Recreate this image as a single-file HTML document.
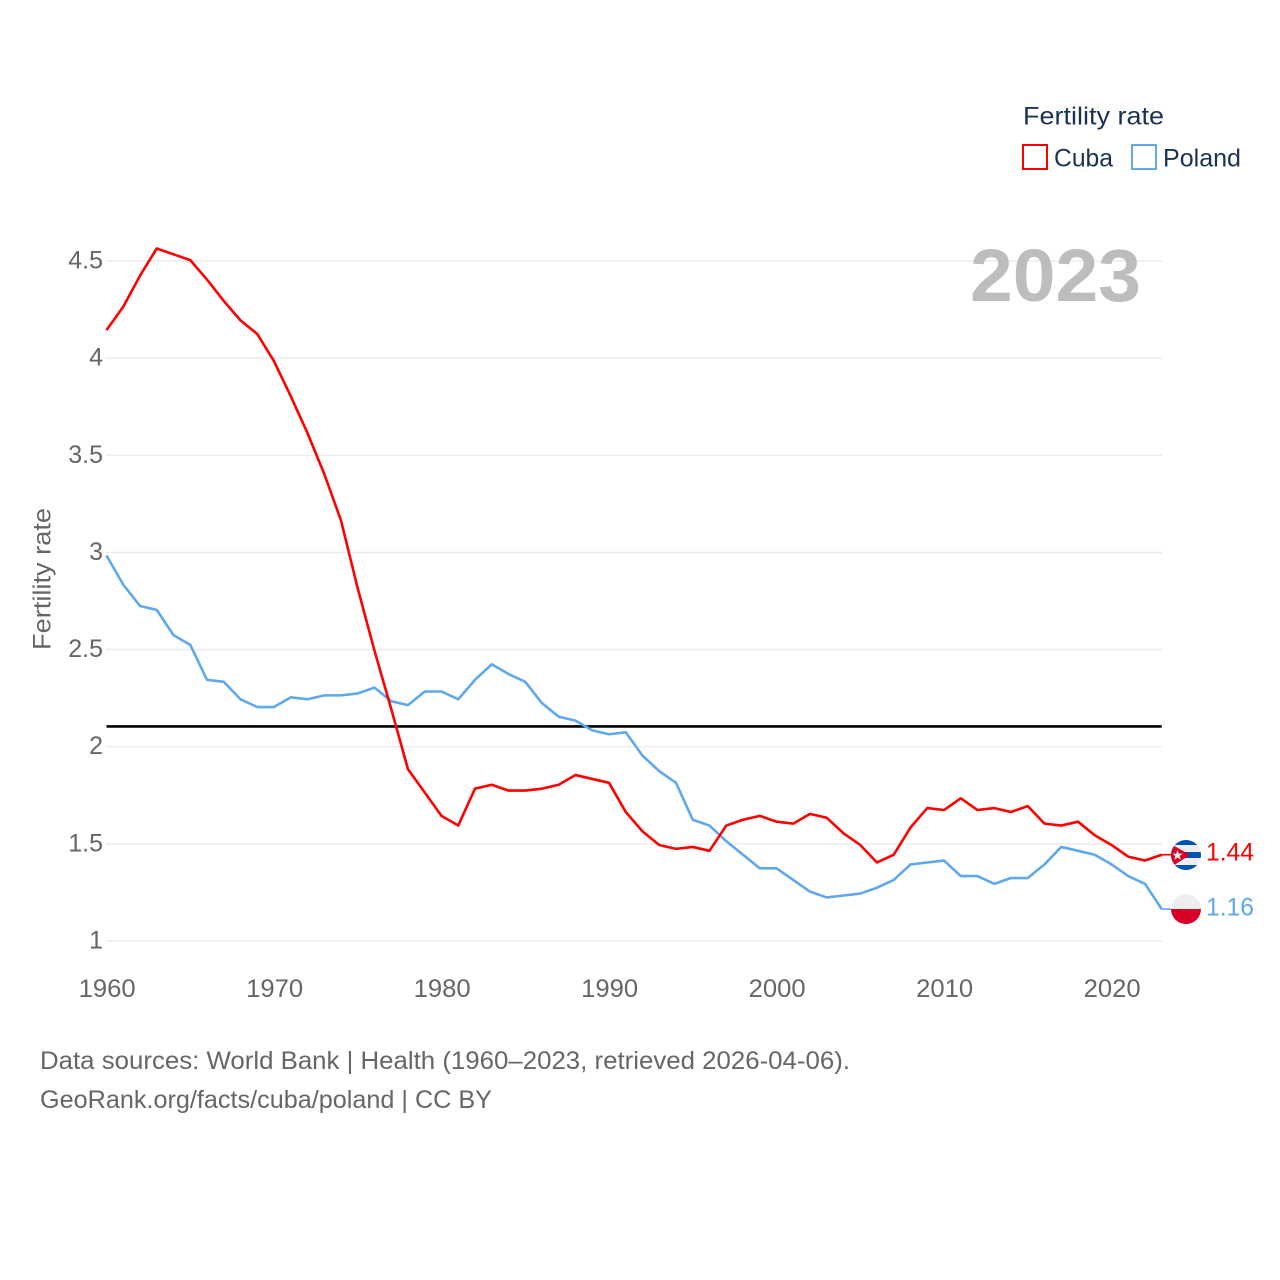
<!DOCTYPE html>
<html lang="en">
<head>
<meta charset="utf-8">
<title>Fertility rate: Cuba and Poland</title>
<style>
html,body{margin:0;padding:0;background:#fff;width:1280px;height:1280px;overflow:hidden}
svg{display:block}
text{font-family:"Liberation Sans",sans-serif}
</style>
</head>
<body>
<svg id="chart" width="1280" height="1280" viewBox="0 0 1280 1280" xmlns="http://www.w3.org/2000/svg">
  <defs>
    <clipPath id="cuba-clip"><circle cx="1186" cy="855" r="15"/></clipPath>
    <clipPath id="poland-clip"><circle cx="1186" cy="909" r="15"/></clipPath>
  </defs>
  <rect width="1280" height="1280" fill="#fff"/>
  <g id="grid"></g>
  <g id="yticks"></g>
  <g id="xticks"></g>
  <text transform="translate(50.5,650) rotate(-90)" font-size="25" fill="#666" textLength="142" lengthAdjust="spacingAndGlyphs">Fertility rate</text>
  <text x="970" y="301" font-size="74" font-weight="700" fill="#bdbdbd" textLength="171" lengthAdjust="spacingAndGlyphs">2023</text>
  <line id="ref" stroke="#000" stroke-width="2.6"/>
  <polyline id="line-poland" fill="none" stroke="#5fa8ee" stroke-width="2.6" stroke-linejoin="round"/>
  <polyline id="line-cuba" fill="none" stroke="#ff0000" stroke-width="2.6" stroke-linejoin="round"/>
  <line id="conn-cuba" stroke="#ff0000" stroke-width="1.6"/>
  <line id="conn-poland" stroke="#5fa8ee" stroke-width="1.6"/>

  <g clip-path="url(#cuba-clip)">
    <rect x="1171" y="840" width="30" height="30" fill="#eeeeee"/>
    <rect x="1171" y="839" width="30" height="6" fill="#0052b4"/>
    <rect x="1171" y="852" width="30" height="6" fill="#0052b4"/>
    <rect x="1171" y="865" width="30" height="6" fill="#0052b4"/>
    <polygon points="1171,844 1190,855 1171,867" fill="#d80027"/>
    <polygon points="1177.5,850 1178.9,853.6 1182.6,853.6 1179.7,856 1180.8,859.8 1177.5,857.6 1174.2,859.8 1175.3,856 1172.4,853.6 1176.1,853.6" fill="#eeeeee"/>
  </g>
  <g clip-path="url(#poland-clip)">
    <rect x="1171" y="894" width="30" height="15" fill="#eeeeee"/>
    <rect x="1171" y="909" width="30" height="15" fill="#d80027"/>
  </g>
  <text id="val-cuba" x="1206" y="860.5" font-size="25" fill="#ff0000" textLength="48" lengthAdjust="spacingAndGlyphs"></text>
  <text id="val-poland" x="1206" y="915.5" font-size="25" fill="#5fa8ee" textLength="48" lengthAdjust="spacingAndGlyphs"></text>

  <g>
    <text x="1023" y="124.5" font-size="25" fill="#1a3352" textLength="141" lengthAdjust="spacingAndGlyphs">Fertility rate</text>
    <rect x="1023" y="145" width="24" height="24" fill="none" stroke="#ff0000" stroke-width="2"/>
    <text x="1054" y="166.5" font-size="25" fill="#1a3352" textLength="59" lengthAdjust="spacingAndGlyphs">Cuba</text>
    <rect x="1132" y="145" width="24" height="24" fill="none" stroke="#5fa8ee" stroke-width="2"/>
    <text x="1163" y="166.5" font-size="25" fill="#1a3352" textLength="78" lengthAdjust="spacingAndGlyphs">Poland</text>
  </g>
  <text x="40" y="1069" font-size="25" fill="#666" textLength="810" lengthAdjust="spacingAndGlyphs">Data sources: World Bank | Health (1960–2023, retrieved 2026-04-06).</text>
  <text x="40" y="1108" font-size="25" fill="#666" textLength="452" lengthAdjust="spacingAndGlyphs">GeoRank.org/facts/cuba/poland | CC BY</text>
</svg>
<script>
const startYear = 1960;
const cubaValues = [4.14,4.26,4.42,4.56,4.53,4.50,4.40,4.29,4.19,4.12,3.98,3.80,3.61,3.40,3.16,2.81,2.49,2.19,1.88,1.76,1.64,1.59,1.78,1.80,1.77,1.77,1.78,1.80,1.85,1.83,1.81,1.66,1.56,1.49,1.47,1.48,1.46,1.59,1.62,1.64,1.61,1.60,1.65,1.63,1.55,1.49,1.40,1.44,1.58,1.68,1.67,1.73,1.67,1.68,1.66,1.69,1.60,1.59,1.61,1.54,1.49,1.43,1.41,1.44];
const polandValues = [2.98,2.83,2.72,2.70,2.57,2.52,2.34,2.33,2.24,2.20,2.20,2.25,2.24,2.26,2.26,2.27,2.30,2.23,2.21,2.28,2.28,2.24,2.34,2.42,2.37,2.33,2.22,2.15,2.13,2.08,2.06,2.07,1.95,1.87,1.81,1.62,1.59,1.51,1.44,1.37,1.37,1.31,1.25,1.22,1.23,1.24,1.27,1.31,1.39,1.40,1.41,1.33,1.33,1.29,1.32,1.32,1.39,1.48,1.46,1.44,1.39,1.33,1.29,1.16];
const yTicks = [1,1.5,2,2.5,3,3.5,4,4.5];
const xTicks = [1960,1970,1980,1990,2000,2010,2020];
const referenceValue = 2.1;

const NS = 'http://www.w3.org/2000/svg';
const xScale = function (year) { return 106.5 + (year - 1960) * 16.75; };
const yGrid = function (v) { return 941 - (v - 1) * 194.3; };
const yScale = function (v) { return yGrid(v) - 0.8; };
const pointsOf = function (values) {
  return values.map(function (v, i) { return xScale(startYear + i).toFixed(2) + ',' + yScale(v).toFixed(2); }).join(' ');
};

const grid = document.getElementById('grid');
const yGroup = document.getElementById('yticks');
const xGroup = document.getElementById('xticks');

yTicks.forEach(function (t) {
  const gl = document.createElementNS(NS, 'line');
  
  
  gl.setAttribute('x1', 106);
  gl.setAttribute('x2', 1162);
  gl.setAttribute('y1', yGrid(t));
  gl.setAttribute('y2', yGrid(t));
  gl.setAttribute('stroke', '#ebebeb');
  gl.setAttribute('stroke-width', '1.4');
  grid.appendChild(gl);

  const lb = document.createElementNS(NS, 'text');
  
  
  lb.setAttribute('x', 103);
  lb.setAttribute('y', yGrid(t) + 7.5);
  lb.setAttribute('text-anchor', 'end');
  lb.setAttribute('font-size', '25');
  lb.setAttribute('fill', '#666');
  lb.textContent = String(t);
  yGroup.appendChild(lb);
});

xTicks.forEach(function (t) {
  const lb = document.createElementNS(NS, 'text');
  
  
  lb.setAttribute('x', xScale(t) + 0.6);
  lb.setAttribute('y', 997);
  lb.setAttribute('text-anchor', 'middle');
  lb.setAttribute('font-size', '25');
  lb.setAttribute('fill', '#666');
  lb.setAttribute('textLength', '57');
  lb.setAttribute('lengthAdjust', 'spacingAndGlyphs');
  lb.textContent = String(t);
  xGroup.appendChild(lb);
});

const ref = document.getElementById('ref');
ref.setAttribute('x1', xScale(1960));
ref.setAttribute('x2', xScale(2023));
ref.setAttribute('y1', yScale(referenceValue));
ref.setAttribute('y2', yScale(referenceValue));

document.getElementById('line-cuba').setAttribute('points', pointsOf(cubaValues));
document.getElementById('line-poland').setAttribute('points', pointsOf(polandValues));

const lastYear = startYear + cubaValues.length - 1;
const lastCuba = cubaValues[cubaValues.length - 1];
const lastPoland = polandValues[polandValues.length - 1];
const connCuba = document.getElementById('conn-cuba');
connCuba.setAttribute('x1', xScale(lastYear));
connCuba.setAttribute('x2', 1172);
connCuba.setAttribute('y1', yScale(lastCuba));
connCuba.setAttribute('y2', yScale(lastCuba));
const connPoland = document.getElementById('conn-poland');
connPoland.setAttribute('x1', xScale(lastYear));
connPoland.setAttribute('x2', 1172);
connPoland.setAttribute('y1', yScale(lastPoland));
connPoland.setAttribute('y2', yScale(lastPoland));
document.getElementById('val-cuba').textContent = lastCuba.toFixed(2);
document.getElementById('val-poland').textContent = lastPoland.toFixed(2);
</script>
</body>
</html>
